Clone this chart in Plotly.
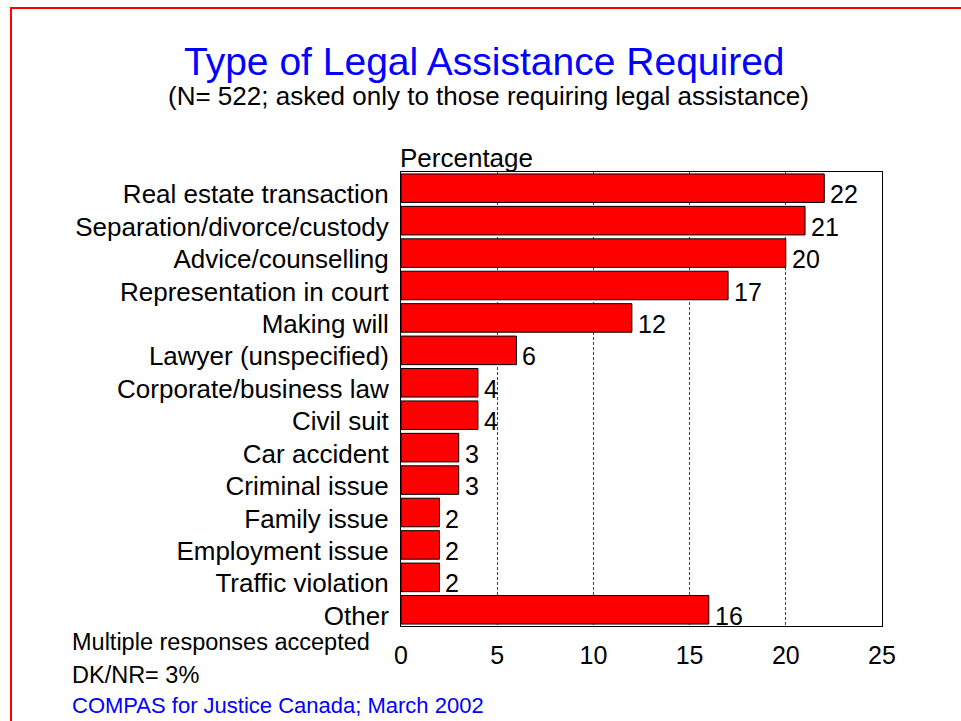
import plotly.graph_objects as go

# Survey categories (top to bottom) and the percentage for each
categories = [
    "Real estate transaction",
    "Separation/divorce/custody",
    "Advice/counselling",
    "Representation in court",
    "Making will",
    "Lawyer (unspecified)",
    "Corporate/business law",
    "Civil suit",
    "Car accident",
    "Criminal issue",
    "Family issue",
    "Employment issue",
    "Traffic violation",
    "Other",
]
percentages = [22, 21, 20, 17, 12, 6, 4, 4, 3, 3, 2, 2, 2, 16]
x_ticks = [0, 5, 10, 15, 20, 25]

FONT = "Liberation Sans, Arial, sans-serif"
W, H = 961, 721
M_L, M_R, M_T, M_B = 401, 79, 172, 95
PW, PH = W - M_L - M_R, H - M_T - M_B


def px_x(x):
    """Pixel column -> paper x."""
    return (x - M_L) / PW


def px_y(y):
    """Pixel row -> paper y."""
    return (H - M_B - y) / PH


fig = go.Figure(
    go.Bar(
        x=percentages,
        y=categories,
        orientation="h",
        marker=dict(color="#ff0000", line=dict(color="#000000", width=1)),
        width=0.88,
        hoverinfo="skip",
    )
)

# value labels just past the end of each bar
for cat, val in zip(categories, percentages):
    fig.add_annotation(
        x=val, y=cat, xref="x", yref="y",
        text=str(val), showarrow=False,
        xanchor="left", yanchor="middle",
        xshift=4, yshift=-6,
        font=dict(family=FONT, size=25, color="#000000"),
    )

texts = [
    dict(x=px_x(484), y=px_y(62), text="Type of Legal Assistance Required",
         size=39, color="#0000ff", xanchor="center"),
    dict(x=px_x(488), y=px_y(96),
         text="(N= 522; asked only to those requiring legal assistance)",
         size=26, color="#000000", xanchor="center"),
    dict(x=px_x(398), y=px_y(158), text="Percentage",
         size=26, color="#000000", xanchor="left"),
    dict(x=px_x(70), y=px_y(642), text="Multiple responses accepted",
         size=23.5, color="#000000", xanchor="left"),
    dict(x=px_x(70), y=px_y(675), text="DK/NR= 3%",
         size=23.5, color="#000000", xanchor="left"),
    dict(x=px_x(70), y=px_y(705), text="COMPAS for Justice Canada; March 2002",
         size=22, color="#0000ff", xanchor="left"),
]
for t in texts:
    fig.add_annotation(
        x=t["x"], y=t["y"], xref="paper", yref="paper",
        text=t["text"], showarrow=False,
        xanchor=t["xanchor"], yanchor="middle",
        font=dict(family=FONT, size=t["size"], color=t["color"]),
    )

# red page frame
fig.add_shape(
    type="rect", xref="paper", yref="paper",
    x0=px_x(11), x1=px_x(W + 20), y0=px_y(H + 20), y1=px_y(8),
    line=dict(color="#ff0000", width=2), fillcolor="rgba(0,0,0,0)",
    layer="above",
)

fig.update_layout(
    width=W, height=H,
    margin=dict(l=M_L, r=M_R, t=M_T, b=M_B, pad=0),
    paper_bgcolor="#ffffff", plot_bgcolor="#ffffff",
    showlegend=False,
    font=dict(family=FONT, size=25, color="#000000"),
    bargap=0.12,
)
fig.update_xaxes(
    range=[0, 25], tickvals=x_ticks, ticktext=[str(v) for v in x_ticks],
    showgrid=True, gridcolor="#444444", gridwidth=1, griddash="3px,2px",
    showline=True, linecolor="#000000", linewidth=1, mirror=True,
    zeroline=False, ticks="", ticklabelstandoff=7,
    tickfont=dict(family=FONT, size=25, color="#000000"),
    fixedrange=True,
)
fig.update_yaxes(
    type="category", categoryorder="array", categoryarray=categories,
    range=[len(categories) - 0.5, -0.5],
    showgrid=False, showline=True, linecolor="#000000", linewidth=1,
    mirror=True, zeroline=False, ticks="", ticklabelstandoff=6,
    ticklabelshift=-6,
    tickfont=dict(family=FONT, size=26, color="#000000"),
    fixedrange=True,
)

fig.write_html("out.html")
